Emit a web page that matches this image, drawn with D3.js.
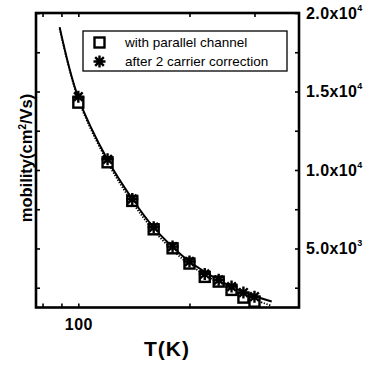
<!DOCTYPE html>
<html>
<head>
<meta charset="utf-8">
<script src="https://cdn.jsdelivr.net/npm/d3@7"></script>
<style>
  body { margin: 0; background: #fff; }
  svg { display: block; }
  text { font-family: "Liberation Sans", Arial, sans-serif; fill: #000; }
</style>
</head>
<body>
<svg id="chart" width="367" height="368"></svg>
<script>
// temperatures (K) and mobilities (cm^2/Vs)
var temps = [100, 120, 140, 160, 180, 200, 220, 240, 260, 280, 300];
var muParallel = [14290, 10490, 8030, 6220, 5010, 4040, 3190, 2890, 2360, 1870, 1610];
var muCorrected = [14670, 10680, 8150, 6350, 5120, 4170, 3380, 3000, 2570, 2190, 1930];

// fit curves
var fitT = [89, 100, 120, 140, 160, 180, 200, 240, 280, 334];
var fitSolid = [19100, 14600, 10650, 8150, 6330, 5100, 4170, 2990, 2230, 1620];
var fitDotted = [19000, 14500, 10500, 7950, 6150, 4900, 3980, 2800, 2000, 1350];

var xTicks = [80, 90, 100, 200, 300];
var xLabels = [100];
var yTicks = [2500, 5000, 7500, 10000, 12500, 15000, 17500, 20000];
var yLabelVals = [5000, 10000, 15000, 20000];
var yMantissa = ["5.0", "1.0", "1.5", "2.0"];
var yExponent = ["3", "4", "4", "4"];

var legendNames = ["with parallel channel", "after 2 carrier correction"];

var L = 36, R = 299, T = 13, B = 307.5;
var svg = d3.select("#chart");

var x = d3.scaleLog().domain([76.8, 396]).range([L, R]);
var y = d3.scaleLinear().domain([1240, 20000]).range([B, T]);

var g = svg.append("g");

// axes, ticks pointing inwards
function tidy(a) {
  a.select(".domain").remove();
  a.selectAll(".tick line").attr("stroke", "#000").attr("stroke-width", 1.6);
}
g.append("g").attr("transform", "translate(0," + B + ")")
  .call(d3.axisBottom(x).tickValues(xTicks).tickSize(-4).tickPadding(8)
    .tickFormat(function(d) { return xLabels.indexOf(d) >= 0 ? d : ""; }))
  .call(tidy)
  .selectAll("text").style("font-size", "16px").style("font-weight", "bold")
  .style("letter-spacing", "0.5px").attr("dy", "0.9em");
g.append("g").attr("transform", "translate(0," + T + ")")
  .call(d3.axisTop(x).tickValues(xTicks).tickSize(-4).tickFormat(""))
  .call(tidy);
g.append("g").attr("transform", "translate(" + L + ",0)")
  .call(d3.axisLeft(y).tickValues(yTicks).tickSize(-4).tickFormat(""))
  .call(tidy);
var ry = g.append("g").attr("transform", "translate(" + R + ",0)")
  .call(d3.axisRight(y).tickValues(yTicks).tickSize(-4).tickFormat(""))
  .call(tidy);

// right tick labels a.bx10^n
ry.selectAll(".ylab").data(yLabelVals).enter().append("text")
  .attr("class", "ylab")
  .attr("x", 7).attr("y", function(d) { return y(d) + 6; })
  .style("font-size", "16px").style("font-weight", "bold").style("letter-spacing", "0.4px")
  .each(function(d, i) {
    var t = d3.select(this);
    t.append("tspan").text(yMantissa[i] + "x10");
    t.append("tspan").attr("dy", -8).style("font-size", "9px").text(yExponent[i]);
  });

// frame
g.append("rect").attr("x", L).attr("y", T).attr("width", R - L).attr("height", B - T)
  .attr("fill", "none").attr("stroke", "#000").attr("stroke-width", 2.6);

// fit lines
var line = d3.line().x(function(d) { return x(d[0]); }).y(function(d) { return y(d[1]); })
  .curve(d3.curveCatmullRom);
g.append("path").datum(d3.zip(fitT, fitDotted)).attr("d", line)
  .attr("fill", "none").attr("stroke", "#000").attr("stroke-width", 1.8).attr("stroke-dasharray", "1.3,1.5");
g.append("path").datum(d3.zip(fitT, fitSolid)).attr("d", line)
  .attr("fill", "none").attr("stroke", "#000").attr("stroke-width", 2);

function square(sel, cx, cy) {
  sel.append("rect").attr("x", cx - 5).attr("y", cy - 5).attr("width", 10).attr("height", 10)
    .attr("fill", "#fff").attr("stroke", "#000").attr("stroke-width", 2.4);
}
function star(sel, cx, cy) {
  var r = 6, d = r * 0.72;
  var p = "M" + (cx - r) + "," + cy + "H" + (cx + r) +
    "M" + cx + "," + (cy - r) + "V" + (cy + r) +
    "M" + (cx - d) + "," + (cy - d) + "L" + (cx + d) + "," + (cy + d) +
    "M" + (cx - d) + "," + (cy + d) + "L" + (cx + d) + "," + (cy - d);
  sel.append("path").attr("d", p).attr("stroke", "#000").attr("stroke-width", 2.4).attr("fill", "none");
}

var pts = g.append("g");
temps.forEach(function(t, i) { square(pts, x(t), y(muParallel[i])); });
temps.forEach(function(t, i) { star(pts, x(t), y(muCorrected[i])); });

// legend
var lg = g.append("g");
lg.append("rect").attr("x", 83).attr("y", 31).attr("width", 204).attr("height", 40)
  .attr("fill", "#fff").attr("stroke", "#000").attr("stroke-width", 1.3);
square(lg, 99.5, 42.5);
star(lg, 99.5, 61.5);
lg.selectAll(".lt").data(legendNames).enter().append("text")
  .attr("x", 125).attr("y", function(d, i) { return 47 + i * 19; })
  .style("font-size", "13.5px").text(function(d) { return d; });

// axis titles
svg.append("text").attr("x", 167).attr("y", 356).attr("text-anchor", "middle")
  .style("font-size", "21px").style("font-weight", "bold").style("letter-spacing", "1px").text("T(K)");
var yt = svg.append("text").attr("transform", "translate(32,158) rotate(-90)")
  .attr("text-anchor", "middle").style("font-size", "16.5px").style("font-weight", "bold");
yt.append("tspan").text("mobility(cm");
yt.append("tspan").attr("dy", -6).style("font-size", "10px").text("2");
yt.append("tspan").attr("dy", 6).text("/Vs)");
</script>
</body>
</html>
